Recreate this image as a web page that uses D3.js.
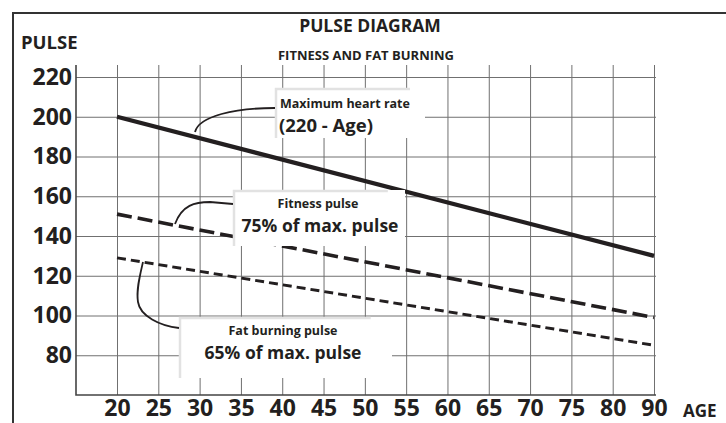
<!DOCTYPE html>
<html>
<head>
<meta charset="utf-8">
<script src="https://cdn.jsdelivr.net/npm/d3@7"></script>
<style>
  body { margin: 0; background: #fff; }
  svg { display: block; font-family: "Open Sans", sans-serif; }
</style>
</head>
<body>
<svg width="726" height="423"></svg>
<script>
// data
const ageTicks = ["20", "25", "30", "35", "40", "45", "50", "55", "60", "65", "70", "75", "80", "90"];
const pulseTicks = [80, 100, 120, 140, 160, 180, 200, 220];
const seriesAges = ["20", "90"];
const maxHeartRate = [200, 130];
const fitnessPulse = [151, 99];
const fatBurnPulse = [129, 85];

const ink = "#231f20";
const gridColor = "#707070";

const svg = d3.select("svg");

let xScale = d3.scalePoint()
    .domain(ageTicks)
    .range([117, 654]);

let yScale = d3.scaleLinear()
    .domain([60, 220])
    .range([395, 77]);

// outer frame (cut off at right and bottom)
svg.append("path")
    .attr("d", "M13,423 V13 H726")
    .attr("fill", "none")
    .attr("stroke", "#333")
    .attr("stroke-width", 2);

// titles
svg.append("text")
    .attr("x", 370).attr("y", 32)
    .attr("text-anchor", "middle")
    .attr("font-size", 17.5).attr("font-weight", 700)
    .attr("fill", ink)
    .text("PULSE DIAGRAM");

svg.append("text")
    .attr("x", 366).attr("y", 60)
    .attr("text-anchor", "middle")
    .attr("font-size", 13).attr("font-weight", 700)
    .attr("fill", ink)
    .text("FITNESS AND FAT BURNING");

svg.append("text")
    .attr("x", 21).attr("y", 49)
    .attr("font-size", 18.5).attr("font-weight", 700)
    .attr("fill", ink)
    .text("PULSE");

svg.append("text")
    .attr("x", 683).attr("y", 417)
    .attr("font-size", 17).attr("font-weight", 700)
    .attr("fill", ink)
    .text("AGE");

// axes with gridlines
const yAxis = d3.axisLeft(yScale)
    .tickValues(pulseTicks)
    .tickSize(-(656 - 76))
    .tickPadding(4);

const xAxis = d3.axisBottom(xScale)
    .tickSize(-(395 - 65))
    .tickPadding(5);

const gy = svg.append("g")
    .attr("transform", "translate(76, 0)")
    .call(yAxis);

const gx = svg.append("g")
    .attr("transform", "translate(0, 395)")
    .call(xAxis);

[gx, gy].forEach(g => {
    g.select(".domain").remove();
    g.selectAll(".tick line").attr("stroke", gridColor).attr("stroke-width", 1);
    g.selectAll(".tick text")
        .attr("fill", ink)
        .attr("font-family", "\"Open Sans\", sans-serif")
        .attr("font-size", 23)
        .attr("font-weight", 700);
});

// axis lines
svg.append("path")
    .attr("d", "M76,65 V395 H656")
    .attr("fill", "none")
    .attr("stroke", "#444")
    .attr("stroke-width", 1.6);

// series lines
const line = d3.line()
    .x(d => xScale(d[0]))
    .y(d => yScale(d[1]));

const drawSeries = (values, width, dash) => {
    svg.append("path")
        .datum(seriesAges.map((a, i) => [a, values[i]]))
        .attr("d", line)
        .attr("fill", "none")
        .attr("stroke", ink)
        .attr("stroke-width", width)
        .attr("stroke-dasharray", dash);
};

drawSeries(maxHeartRate, 4.2, null);
drawSeries(fitnessPulse, 3.6, "15 6");
drawSeries(fatBurnPulse, 3, "9 5");

// annotation boxes
const drawBox = (x, y, w, h) => {
    svg.append("rect")
        .attr("x", x).attr("y", y)
        .attr("width", w).attr("height", h)
        .attr("fill", "#fff");
    svg.append("path")
        .attr("d", `M${x + 1},${y + h} V${y + 1} H${x + w * 0.9}`)
        .attr("fill", "none")
        .attr("stroke", "#e2e2e2")
        .attr("stroke-width", 2.5);
};

const drawLeader = (d) => {
    svg.append("path")
        .attr("d", d)
        .attr("fill", "none")
        .attr("stroke", ink)
        .attr("stroke-width", 1.8);
};

const drawLabel = (x, y, size, anchor, text) => {
    svg.append("text")
        .attr("x", x).attr("y", y)
        .attr("text-anchor", anchor)
        .attr("font-size", size).attr("font-weight", 700)
        .attr("fill", ink)
        .text(text);
};

drawBox(275, 88, 150, 50);
drawLeader("M195,132 C199,116 235,108 275,108");
drawLabel(280, 108, 12.5, "start", "Maximum heart rate");
drawLabel(279, 132, 18.5, "start", "(220 - Age)");

drawBox(233, 190, 172, 56);
drawLeader("M175,224 C182,205 195,202 210,202 L233,204");
drawLabel(318, 208, 12.5, "middle", "Fitness pulse");
drawLabel(320, 232, 17.5, "middle", "75% of max. pulse");

drawBox(179, 317, 213, 61);
drawLeader("M143,262 C140,275 136,290 138,302 C140,316 160,326 179,328");
drawLabel(283, 335, 12.5, "middle", "Fat burning pulse");
drawLabel(283, 359, 17.5, "middle", "65% of max. pulse");
</script>
</body>
</html>
